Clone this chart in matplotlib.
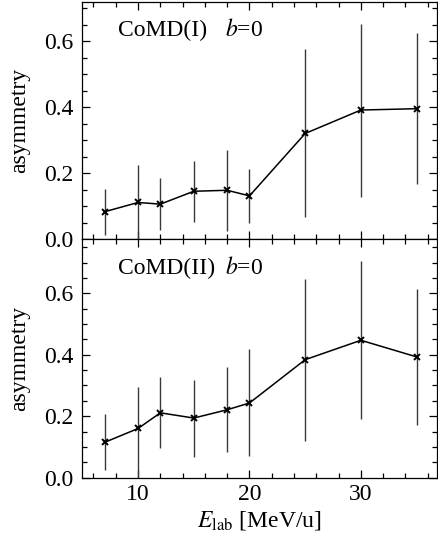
import matplotlib
matplotlib.use("Agg")
import matplotlib.pyplot as plt
from matplotlib.ticker import MultipleLocator

plt.rcParams['font.family'] = ['Liberation Serif', 'DejaVu Serif']
plt.rcParams['mathtext.fontset'] = 'stix'

energy = [7, 10, 12, 15, 18, 20, 25, 30, 35]

# CoMD(I), b=0
asym_1 = [0.084, 0.112, 0.107, 0.146, 0.149, 0.132, 0.321, 0.392, 0.396]
err1_lo = [0.071, 0.112, 0.079, 0.093, 0.123, 0.081, 0.254, 0.263, 0.229]
err1_hi = [0.068, 0.113, 0.078, 0.091, 0.121, 0.080, 0.255, 0.260, 0.228]

# CoMD(II), b=0
asym_2 = [0.115, 0.160, 0.211, 0.194, 0.221, 0.243, 0.384, 0.447, 0.393]
err2_lo = [0.090, 0.160, 0.115, 0.128, 0.138, 0.174, 0.264, 0.257, 0.222]
err2_hi = [0.092, 0.135, 0.116, 0.125, 0.139, 0.176, 0.263, 0.257, 0.221]

panels = [
    ("CoMD(I)", asym_1, err1_lo, err1_hi, 0.72),
    ("CoMD(II)", asym_2, err2_lo, err2_hi, 0.775),
]

FS = 17

fig = plt.figure(figsize=(4.38, 5.33), dpi=100)
left, right = 0.188, 0.997
top, mid, bot = 0.9968, 0.5507, 0.1038
ax1 = fig.add_axes([left, mid, right - left, top - mid])
ax2 = fig.add_axes([left, bot, right - left, mid - bot], sharex=ax1)

for ax, (name, y, lo, hi, ytop) in zip([ax1, ax2], panels):
    ax.errorbar(energy, y, yerr=[lo, hi], fmt='none', ecolor='#3a3a3a',
                elinewidth=1.0, capsize=0, zorder=2)
    ax.plot(energy, y, color='black', lw=1.1, marker='x', ms=4.2, mew=1.4,
            zorder=3)
    ax.set_xlim(5, 36.8)
    ax.set_ylim(0, ytop)
    ax.xaxis.set_major_locator(MultipleLocator(10))
    ax.xaxis.set_minor_locator(MultipleLocator(2))
    ax.yaxis.set_major_locator(MultipleLocator(0.2))
    ax.yaxis.set_minor_locator(MultipleLocator(0.05))
    ax.yaxis.set_major_formatter(plt.FuncFormatter(lambda v, p: f"{v:.1f}"))
    ax.tick_params(which='both', direction='in', top=True, right=True,
                   labelsize=FS, width=0.9)
    ax.tick_params(which='major', length=6)
    ax.tick_params(which='minor', length=3.5)
    ax.tick_params(axis='y', which='major', pad=6.5)
    ax.tick_params(axis='x', which='major', pad=4.5)
    for s in ax.spines.values():
        s.set_linewidth(0.9)
    ax.set_ylabel("asymmetry", fontsize=FS, labelpad=10)
    ax.text(0.101, 0.856, name, transform=ax.transAxes, fontsize=FS,
            ha='left', va='baseline')
    ax.text(0.403, 0.856, r"$b$=0", transform=ax.transAxes, fontsize=FS,
            ha='left', va='baseline')

plt.setp(ax1.get_xticklabels(), visible=False)
ax2.set_xlabel(r"$E_{\rm lab}$ [MeV/u]", fontsize=FS, labelpad=3)

fig.savefig("out.png", dpi=100)
